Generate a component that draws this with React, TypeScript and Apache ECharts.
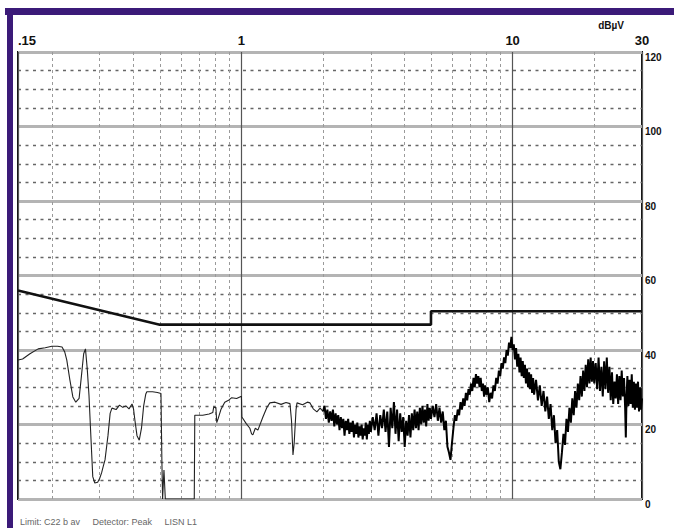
import React, { useEffect, useRef } from 'react';
import * as echarts from 'echarts';

// X axis (MHz, log) tick labels and the dashed minor frequency lines
const xLabelMap: Record<string, string> = { '0.15': '.15', '1': '1', '10': '10', '30': '30' };
const minorFreqLines = [0.2, 0.3, 0.4, 0.5, 0.6, 0.7, 0.8, 0.9, 2, 3, 4, 5, 6, 7, 8, 9, 20];

// Limit line (C22 b, average)
const limitFreq = [0.15, 0.5, 5, 5, 30];
const limitDb = [56, 46.8, 46.8, 50.4, 50.4];

// Measured trace, 0.15 - 2 MHz
const traceLowFreq = [
  0.15, 0.156, 0.166, 0.178, 0.189, 0.2, 0.21, 0.218, 0.223, 0.227, 0.233, 0.239, 0.245, 0.252,
  0.257, 0.262, 0.266, 0.27, 0.274, 0.278, 0.283, 0.288, 0.295, 0.3, 0.305, 0.31, 0.314, 0.322,
  0.328, 0.333, 0.345, 0.355, 0.365, 0.375, 0.385, 0.395, 0.4, 0.405, 0.412, 0.42, 0.428, 0.436,
  0.444, 0.448, 0.47, 0.49, 0.505, 0.509, 0.512, 0.518, 0.524, 0.67, 0.673, 0.72, 0.76, 0.784,
  0.79, 0.805, 0.811, 0.82, 0.84, 0.868, 0.9, 0.921, 0.96, 1.0, 1.004, 1.04, 1.074, 1.09, 1.102,
  1.125, 1.15, 1.2, 1.24, 1.273, 1.33, 1.4, 1.46, 1.51, 1.53, 1.549, 1.565, 1.59, 1.603, 1.68,
  1.75, 1.79, 1.84, 1.898, 1.95, 2.0,
];
const traceLowDb = [
  37.3, 37.6, 39, 40.3, 40.6, 41, 41, 40.8, 39.5, 37.3, 32, 27.4, 26, 27,
  33, 39, 40.3, 35, 28, 18, 6, 4.3, 4.5, 5.5, 7, 9, 10.5, 17,
  23, 24.4, 24, 25.2, 24.6, 25, 24.2, 25.5, 24.2, 21, 17, 15.8, 19, 25,
  28.2, 28.8, 28.8, 28.6, 28.3, 10, 0, 7.8, 0, 0, 22.5, 22.5, 22.8, 23.2,
  24.6, 24.6, 20.5, 21.5, 24, 26, 26.6, 27.2, 27, 27.6, 22, 20.3, 19, 17.5, 17.2,
  19, 18.5, 22, 24.5, 25.8, 26, 25.4, 25.9, 25.6, 21, 11.8, 15, 24, 25.8, 25.3,
  26, 25.8, 24.2, 23.4, 24.4, 23.5,
];

// Measured trace, 2 - 30 MHz (noisy band)
const traceHighFreq = [
  2.0, 2.025, 2.05, 2.075, 2.1, 2.125, 2.15, 2.175, 2.2, 2.225, 2.25, 2.275, 2.3, 2.325, 2.35, 2.375, 2.4, 2.425, 2.45, 2.475,
  2.5, 2.525, 2.55, 2.575, 2.6, 2.625, 2.65, 2.675, 2.7, 2.725, 2.75, 2.775, 2.8, 2.825, 2.85, 2.875, 2.9, 2.925, 2.95, 2.975,
  3.0, 3.05, 3.1, 3.15, 3.2, 3.25, 3.3, 3.35, 3.4, 3.45, 3.5, 3.55, 3.6, 3.65, 3.7, 3.75, 3.8, 3.85, 3.9, 3.95,
  4.0, 4.05, 4.1, 4.15, 4.2, 4.25, 4.3, 4.35, 4.4, 4.45, 4.5, 4.55, 4.6, 4.65, 4.7, 4.75, 4.8, 4.85, 4.9, 4.95,
  5.0, 5.075, 5.15, 5.225, 5.3, 5.375, 5.45, 5.525, 5.6, 5.675, 5.75, 5.825, 5.9, 5.975, 6.05, 6.125, 6.2, 6.275, 6.35, 6.425,
  6.5, 6.575, 6.65, 6.725, 6.8, 6.875, 6.95, 7.025, 7.1, 7.175, 7.25, 7.325, 7.4, 7.475, 7.55, 7.625, 7.7, 7.775, 7.85, 7.925,
  8.0, 8.1, 8.2, 8.3, 8.4, 8.5, 8.6, 8.7, 8.8, 8.9, 9.0, 9.1, 9.2, 9.3, 9.4, 9.5, 9.6, 9.7, 9.8, 9.9,
  10.0, 10.1, 10.2, 10.3, 10.4, 10.5, 10.6, 10.7, 10.8, 10.9, 11.0, 11.1, 11.2, 11.3, 11.4, 11.5, 11.6, 11.7, 11.8, 11.9,
  12.0, 12.2, 12.4, 12.6, 12.8, 13.0, 13.2, 13.4, 13.6, 13.8, 14.0, 14.2, 14.4, 14.6, 14.8, 15.0, 15.2, 15.4, 15.6, 15.8,
  16.0, 16.2, 16.4, 16.6, 16.8, 17.0, 17.2, 17.4, 17.6, 17.8, 18.0, 18.2, 18.4, 18.6, 18.8, 19.0, 19.2, 19.4, 19.6, 19.8,
  20.0, 20.25, 20.5, 20.75, 21.0, 21.25, 21.5, 21.75, 22.0, 22.25, 22.5, 22.75, 23.0, 23.25, 23.5, 23.75, 24.0, 24.25, 24.5, 24.75,
  25.0, 25.25, 25.5, 25.75, 26.0, 26.15, 26.3, 26.5, 26.75, 27.0, 27.25, 27.5, 27.75, 28.0, 28.25, 28.5, 28.75, 29.0, 29.25, 29.5,
  29.75, 30.0,
];
const traceHighDb = [
  23.5, 25, 21.5, 24, 20.5, 23.5, 21, 24, 19.5, 23, 20, 22.5, 18.5, 22, 19, 21.5, 17, 21, 18.5, 21.5,
  17.5, 20.5, 18, 21, 16.5, 20, 17.5, 20.5, 16.5, 19.5, 17, 20, 16, 19, 17, 20.5, 16, 20, 17.5, 21,
  18, 22, 18.5, 23, 17, 22.5, 19, 24, 18, 23.5, 14, 24.5, 19, 26, 17.5, 24, 15.5, 23, 18, 22,
  14, 21, 17, 22.5, 16.5, 23, 18.5, 24, 19, 23.5, 18.5, 24.5, 20, 25, 20.5, 24, 19.5, 25.5, 21, 24.5,
  21.5, 25, 22, 25.5, 21, 24.5, 20.5, 23.5, 18.5, 21, 14, 12.5, 10.5, 15, 19, 22.5, 21, 24, 22.5, 26,
  24, 27, 25, 28.5, 26.5, 29.5, 28, 31, 29, 32.5, 30, 33.5, 31, 33, 30, 32.5, 29, 31, 27.5, 30.5,
  28, 30, 26, 28.5, 27, 30.5, 29, 32.5, 31, 34.5, 33, 36.5, 35, 38, 36.5, 40, 38.5, 42, 40.5, 43.5,
  40, 41.5, 37.5, 40.5, 35.5, 39, 34, 38, 33, 37, 32.5, 36, 31, 35, 30, 34, 29.5, 33.5, 28.5, 32.5,
  28, 32, 26.5, 30.5, 25, 29, 23.5, 27.5, 21.5, 25.5, 18.5, 22.5, 15, 18.5, 10, 8, 12.5, 17.5, 14.5, 21.5,
  18, 24.5, 20.5, 27, 22.5, 29, 24.5, 31, 26.5, 33, 27.5, 34.5, 29, 36, 30, 37.5, 31, 38, 31.5, 37,
  31, 36.5, 29.5, 38, 29, 35.5, 27.5, 37, 29.5, 38, 28.5, 35.5, 26.5, 34, 25.5, 31.5, 27, 33.5, 25.5, 33,
  26.5, 34.5, 27.5, 32.5, 24.5, 16.5, 27, 33, 25, 32, 25.5, 33.5, 24.5, 31.5, 24, 31, 24.5, 31.5, 23.5, 30,
  24, 27,
];

const footerText = 'Limit: C22 b av     Detector: Peak     LISN L1';
const unitText = 'dBµV';

const zip = (a: number[], b: number[]) => a.map((v, i) => [v, b[i]]);

export default function App() {
  const ref = useRef<HTMLDivElement>(null);
  useEffect(() => {
    const chart = echarts.init(ref.current!, null, { renderer: 'svg' });
    const option: any = {
      animation: false,
      backgroundColor: '#ffffff',
      title: {
        text: footerText,
        left: 15,
        top: 512,
        textStyle: { fontSize: 9, fontWeight: 'normal', color: '#666', fontFamily: 'Liberation Sans' },
      },
      graphic: [
        { type: 'rect', shape: { x: 5, y: 8, width: 669, height: 7 }, style: { fill: '#3b1a78' } },
        { type: 'rect', shape: { x: 7, y: 8, width: 6, height: 520 }, style: { fill: '#3b1a78' } },
      ],
      grid: {
        left: 18,
        top: 52,
        right: 32,
        bottom: 29,
        show: true,
        borderColor: '#111',
        borderWidth: 2,
        backgroundColor: 'transparent',
        containLabel: false,
      },
      xAxis: {
        type: 'log',
        logBase: 10,
        min: 0.15,
        max: 30,
        position: 'top',
        axisLine: { show: false },
        axisTick: { show: false },
        axisLabel: {
          show: true,
          margin: 5,
          color: '#111',
          fontSize: 13,
          fontWeight: 'bold',
          fontFamily: 'Liberation Sans',
          alignMinLabel: 'left',
          formatter: (v: number) => {
            const k = String(Math.round(v * 100) / 100);
            return xLabelMap[k] ?? k;
          },
        },
        splitLine: { show: true, lineStyle: { color: '#555', width: 1.2 } },
      },
      yAxis: {
        type: 'value',
        min: 0,
        max: 120,
        interval: 20,
        position: 'right',
        name: unitText,
        nameLocation: 'end',
        nameGap: 22,
        nameTextStyle: {
          align: 'right',
          padding: [0, 18, 0, 0],
          fontSize: 10,
          fontWeight: 'bold',
          color: '#111',
          fontFamily: 'Liberation Sans',
        },
        axisLine: { show: false },
        axisTick: { show: false },
        axisLabel: {
          margin: 3,
          verticalAlign: 'top',
          color: '#111',
          fontSize: 10,
          fontWeight: 'bold',
          fontFamily: 'Liberation Sans',
        },
        splitLine: { show: true, lineStyle: { color: '#b4b4b4', width: 3 } },
        minorTick: { show: false, splitNumber: 4 },
        minorSplitLine: { show: true, lineStyle: { color: '#666', width: 1.3, type: [3, 4.5] } },
      },
      series: [
        {
          name: 'limit',
          type: 'line',
          data: zip(limitFreq, limitDb),
          symbol: 'none',
          z: 3,
          lineStyle: { color: '#111', width: 2.6 },
          markLine: {
            silent: true,
            symbol: 'none',
            label: { show: false },
            lineStyle: { color: '#9a9a9a', width: 1, type: [3, 3] },
            data: minorFreqLines.map((f) => ({ xAxis: f })),
            z: 1,
          },
        },
        {
          name: 'traceLow',
          type: 'line',
          data: zip(traceLowFreq, traceLowDb),
          symbol: 'none',
          z: 4,
          lineStyle: { color: '#222', width: 1.1 },
        },
        {
          name: 'traceHigh',
          type: 'line',
          data: zip(traceHighFreq, traceHighDb),
          symbol: 'none',
          z: 4,
          lineStyle: { color: '#000', width: 2 },
        },
      ],
    };
    chart.setOption(option);
    return () => chart.dispose();
  }, []);
  return (
    <div
      ref={ref}
      style={{ position: 'fixed', left: 0, top: 0, width: 674, height: 528, background: '#fff' }}
    />
  );
}
